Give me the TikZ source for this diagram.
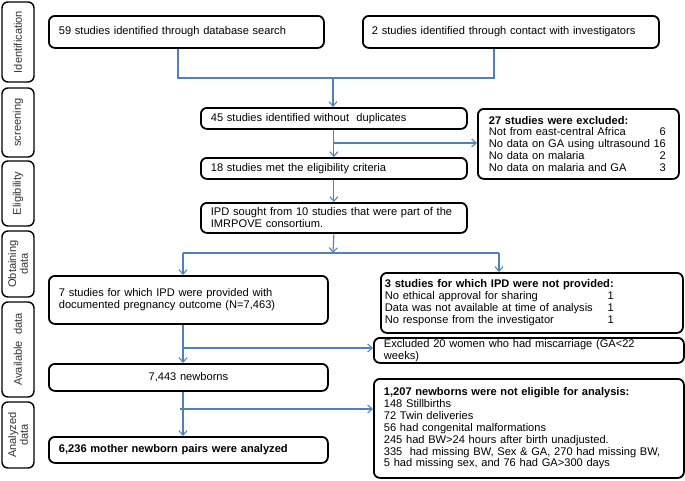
\documentclass[tikz,border=0pt]{standalone}
\usepackage{fontspec}
\setmainfont{Liberation Sans}
\usetikzlibrary{arrows.meta,calc}
\definecolor{connblue}{RGB}{79,129,189}
\begin{document}
\begin{tikzpicture}[x=1pt,y=1pt,
  txt/.style={font=\fontsize{11.1}{11.9}\selectfont},
  box/.style={draw, line width=1.8pt, rounded corners=6pt, anchor=north west,
    align=left, inner ysep=0pt, inner xsep=10pt, txt},
  side/.style={draw, line width=1.4pt, rounded corners=6pt, rotate=90,
    align=center, text=black!80, minimum height=32pt, inner sep=0pt, txt},
  conn/.style={draw=connblue, line width=1.1pt},
  arr/.style={conn, -{Straight Barb[length=4.5pt,width=8pt]}},
]
\useasboundingbox (0,0) rectangle (685,-480);

% side labels
\node[side, minimum width=80pt] (s1) at (18,-42) {Identification};
\node[side, minimum width=69pt] (s2) at (18,-122.5) {screening};
\node[side, minimum width=65pt] (s3) at (18,-193.5) {Eligibility};
\node[side, minimum width=66pt] (s4) at (18,-264) {Obtaining\\data};
\node[side, minimum width=95pt] (s5) at (18,-349.5) {Available\ \ data};
\node[side, minimum width=66pt] (s6) at (18,-435) {Analyzed\\data};

% main boxes
\node[box, text width=255pt, minimum height=32pt] (b1) at (48,-15)
  {59 studies identified through database search};
\node[box, inner xsep=9pt, text width=278pt, minimum height=32pt] (b2) at (362,-15)
  {2 studies identified through contact with investigators};
\node[box, text width=246pt, minimum height=21pt] (b3) at (200,-107)
  {45 studies identified without\ \ duplicates};
\node[box, text width=246pt, minimum height=21pt] (b4) at (200,-157)
  {18 studies met the eligibility criteria};
\node[box, text width=246pt, minimum height=30pt] (b5) at (200,-202)
  {IPD sought from 10 studies that were part of the\\IMRPOVE consortium.};
\node[box, inner xsep=11pt, text width=179pt, minimum height=70pt] (ex1) at (477,-108)
  {\textbf{27 studies were excluded:}\\
   \makebox[177pt]{Not from east-central Africa\hfill 6}\\
   \makebox[177pt]{No data on GA using ultrasound\hfill 16}\\
   \makebox[177pt]{No data on malaria\hfill 2}\\
   \makebox[177pt]{No data on malaria and GA\hfill 3}};
\node[box, text width=259pt, minimum height=48pt] (b6) at (48,-275)
  {7 studies for which IPD were provided with\\documented pregnancy outcome (N=7,463)};
\node[box, inner xsep=4pt, text width=294pt, minimum height=60pt] (b7) at (380,-272)
  {\textbf{3 studies for which IPD were not provided:}\\
   \makebox[229pt]{No ethical approval for sharing\hfill 1}\\
   \makebox[229pt]{Data was not available at time of analysis\hfill 1}\\
   \makebox[229pt]{No response from the investigator\hfill 1}};
\node[box, text width=290pt, minimum height=25pt] (ex2) at (373,-337)
  {Excluded 20 women who had miscarriage (GA<22\\weeks)};
\node[box, align=center, text width=259pt, minimum height=27pt] (b8) at (48,-363)
  {7,443 newborns};
\node[box, text width=290pt, minimum height=99pt] (ex3) at (373,-378)
  {\textbf{1,207 newborns were not eligible for analysis:}\\
   148 Stillbirths\\
   72 Twin deliveries\\
   56 had congenital malformations\\
   245 had BW>24 hours after birth unadjusted.\\
   335\ \ had missing BW, Sex \& GA, 270 had missing BW,\\
   5 had missing sex, and 76 had GA>300 days};
\node[box, text width=259pt, minimum height=26pt] (b9) at (48,-436)
  {\textbf{6,236 mother newborn pairs were analyzed}};

% connectors
\coordinate (p1) at (178,-78);
\coordinate (p2) at (494,-78);
\coordinate (j1) at (333,-78);
\draw[conn] (p1 |- b1.south) -- (p1) -- (p2) -- (p2 |- b2.south);
\draw[arr] (j1) -- (j1 |- b3.north);
\draw[arr] (b3.south) -- (b4.north);
\coordinate (k1) at (333,-143);
\draw[arr] (k1) -- (k1 -| ex1.west);
\draw[arr] (b4.south) -- (b5.north);
\coordinate (j2) at (333,-253);
\draw[arr] (b5.south) -- (j2);
\coordinate (p3) at (183,-253);
\coordinate (p4) at (499,-253);
\draw[conn] (p3) -- (p4);
\draw[arr] (p3) -- (p3 |- b6.north);
\draw[arr] (p4) -- (p4 |- b7.north);
\draw[arr] (p3 |- b6.south) -- (p3 |- b8.north);
\coordinate (k2) at (183,-348);
\draw[arr] (k2) -- (k2 -| ex2.west);
\draw[arr] (p3 |- b8.south) -- (p3 |- b9.north);
\coordinate (k3) at (180,-409);
\draw[arr] (k3) -- (k3 -| ex3.west);
\end{tikzpicture}
\end{document}
